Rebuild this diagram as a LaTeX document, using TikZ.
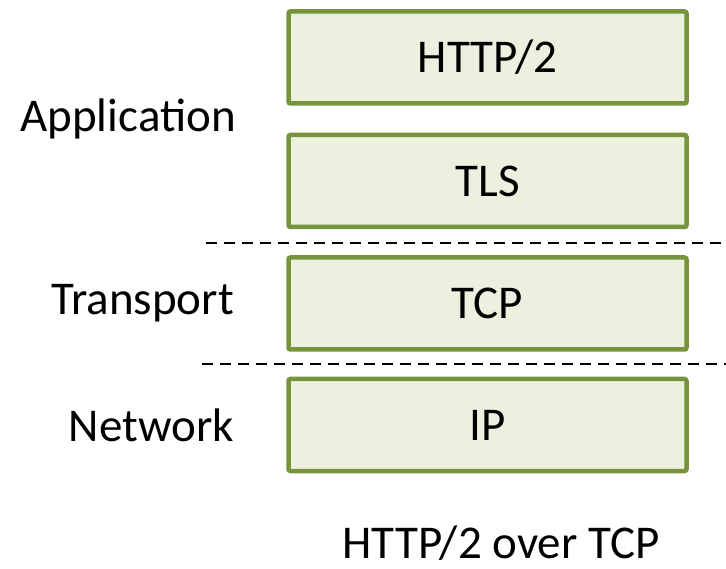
\documentclass[tikz,border=0pt]{standalone}
\usepackage{fontspec}
\setmainfont{Carlito}
\usepackage{tikz}
\usetikzlibrary{positioning}
\definecolor{layerfill}{RGB}{235, 241, 222}
\definecolor{layerdraw}{RGB}{119, 147, 60}
\tikzset{
    layerbox/.style={draw=layerdraw, fill=layerfill, line width=4.5pt, rounded corners=2pt,
        minimum width=398pt, minimum height=92pt, inner sep=0pt},
    layername/.style={anchor=east, inner sep=0pt},
    border/.style={dash pattern=on 11pt off 7pt, line width=2.8pt}
}

\begin{document}
\begin{tikzpicture}[x=1pt, y=-1pt, node distance=27pt, font=\fontsize{47}{56}\selectfont]
    \useasboundingbox (0,0) rectangle (726,569);

    % protocol stack
    \node[layerbox] (http) at (487.5,57.5) {HTTP/2};
    \node[layerbox, below=of http] (tls) {TLS};
    \node[layerbox, below=26pt of tls] (tcp) {TCP};
    \node[layerbox, below=25pt of tcp] (ip) {IP};

    % layer names
    \coordinate (tr) at (234,0);
    \node[layername] (app) at (236,119) {Application};
    \node[layername] (trans) at (tr |- tcp.west) {Transport};
    \node[layername] (net) at (tr |- ip.west) {Network};

    % layer borders
    \coordinate (b1) at (206,243);
    \coordinate (b2) at (202,364);
    \coordinate (r) at (726,0);
    \draw[border] (b1) -- (b1 -| r);
    \draw[border] (b2) -- (b2 -| r);

    \node[inner sep=0pt] (caption) at (501,543) {HTTP/2 over TCP};
\end{tikzpicture}
\end{document}
